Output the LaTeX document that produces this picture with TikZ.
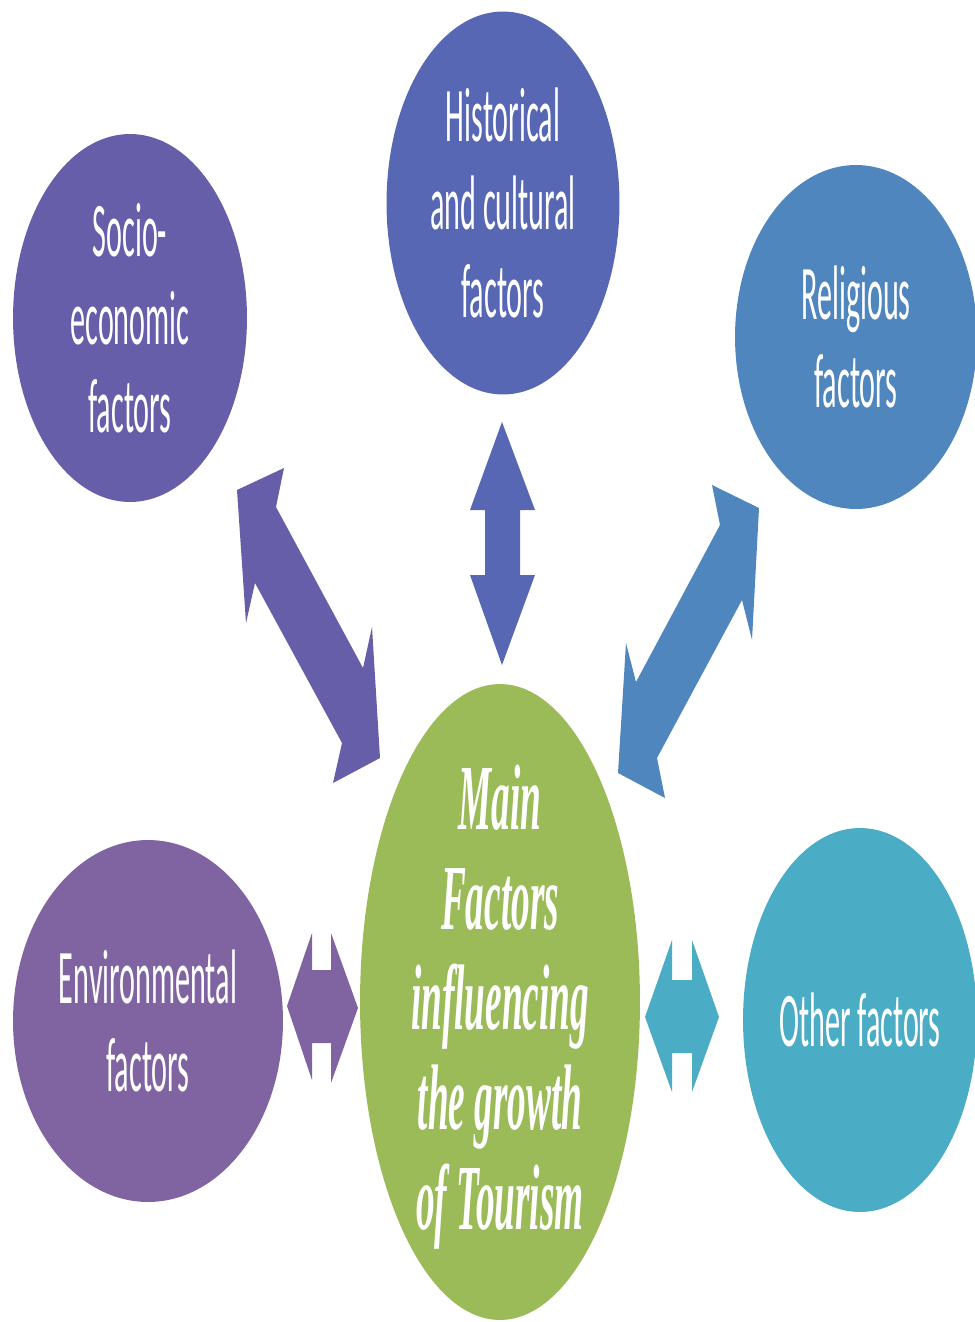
\documentclass[tikz,border=0pt]{standalone}
\usepackage{fontspec}
\usetikzlibrary{shapes.geometric}

% narrow faces for the bubble texts
\newfontfamily\factorfont[FakeStretch=0.39]{Carlito}
\newfontfamily\tourismfont[FakeStretch=0.40]{Liberation Serif}

\definecolor{socio}{HTML}{675EA9}
\definecolor{histo}{HTML}{5767B4}
\definecolor{relig}{HTML}{4F86BE}
\definecolor{enviro}{HTML}{8064A2}
\definecolor{other}{HTML}{4BACC6}
\definecolor{tourism}{HTML}{9BBB59}

\begin{document}
\begin{tikzpicture}[x=0.02cm, y=-0.02cm,
  factor/.style={ellipse, inner sep=0pt, text=white, align=center,
    font=\factorfont\fontsize{44}{50}\selectfont},
  maintext/.style={text=white, align=center, yshift=-3pt,
    font=\tourismfont\itshape\bfseries\fontsize{53}{57}\selectfont}]
\useasboundingbox (0,0) rectangle (974,1322);

% the outer factors
\node[factor, fill=socio, minimum width=4.68cm, minimum height=7.36cm] (socio) at (130,318) {Socio-\\economic\\factors};
\node[factor, fill=histo, minimum width=4.66cm, minimum height=7.66cm] (histo) at (503,203) {Historical\\and cultural\\factors};
\node[factor, fill=relig, minimum width=4.84cm, minimum height=6.88cm] (relig) at (856,337) {Religious\\factors};
\node[factor, fill=enviro, minimum width=5.4cm, minimum height=7.24cm] (enviro) at (148,1021) {Environmental\\factors};
\node[factor, fill=other, minimum width=4.68cm, minimum height=7.68cm] (other) at (860,1020) {Other factors};

% centre bubble, text put on as a label so the ellipse keeps its size
\node[ellipse, fill=tourism, inner sep=0pt, minimum width=5.6cm, minimum height=12.72cm,
  label={[maintext]center:{Main\\Factors\\influencing\\the growth\\of Tourism}}] (main) at (500,1002) {};

% block arrows between the bubbles
\fill[socio] (284,468) -- (276,507) -- (363,668) -- (372,627) -- (380,758) -- (333,783)
  -- (342,743) -- (255,583) -- (246,623) -- (237,490) -- cycle;
\fill[histo] (502,422) -- (535,510) -- (520,510) -- (520,575) -- (535,575) -- (502,665)
  -- (470,575) -- (485,575) -- (485,510) -- (470,510) -- cycle;
\fill[relig] (712,485) -- (759,508) -- (752,640) -- (742,600) -- (657,758) -- (665,798)
  -- (618,773) -- (626,643) -- (636,682) -- (720,525) -- cycle;
\fill[enviro] (287,1006) -- (312,933) -- (312,970) -- (331,970) -- (331,933) -- (358,1008)
  -- (331,1083) -- (331,1043) -- (312,1043) -- (312,1080) -- cycle;
\fill[other] (645,1017) -- (672,940) -- (672,980) -- (692,980) -- (692,940) -- (719,1017)
  -- (692,1092) -- (692,1053) -- (672,1053) -- (672,1092) -- cycle;
\end{tikzpicture}
\end{document}
